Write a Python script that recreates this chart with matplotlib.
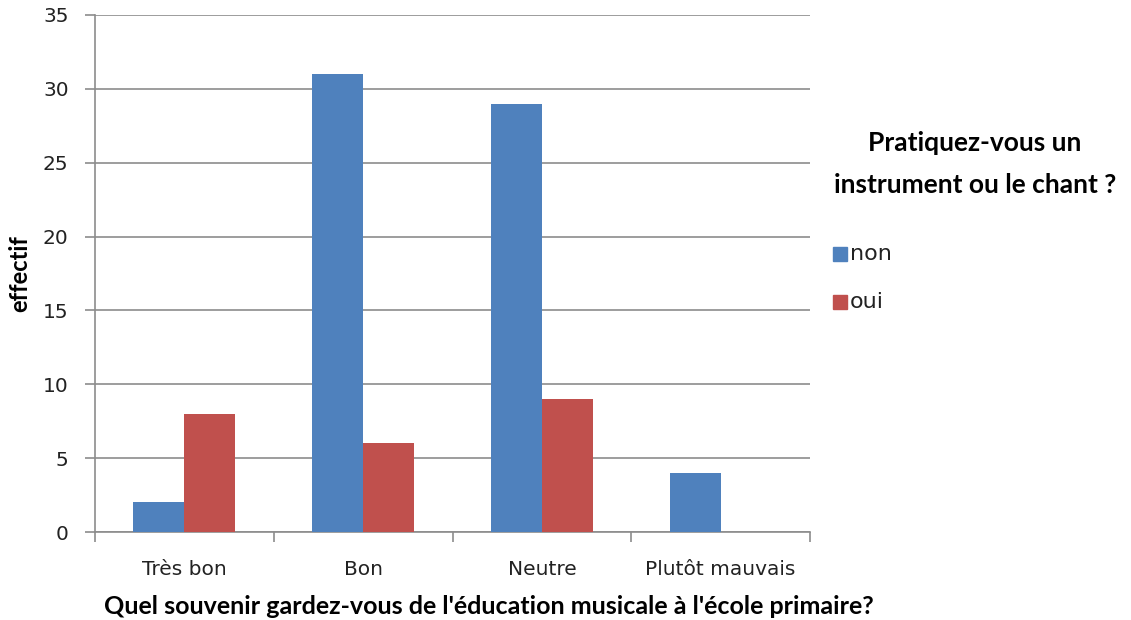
import matplotlib
matplotlib.use("Agg")
import matplotlib.pyplot as plt
import numpy as np

categories = ["Très bon", "Bon", "Neutre", "Plutôt mauvais"]
non_values = [2, 31, 29, 4]
oui_values = [8, 6, 9, 0]
series_names = ["non", "oui"]
y_ticks = [0, 5, 10, 15, 20, 25, 30, 35]

blue = "#4F81BD"
red = "#C0504D"
grid_c = "#8C8C8C"

fig = plt.figure(figsize=(11.31, 6.2), dpi=100)
ax = fig.add_axes([95/1131, 1-532/620, (810-95)/1131, (532-15)/620])

x = np.arange(len(categories))
w = 0.285
ax.bar(x - w/2, non_values, width=w, color=blue, zorder=3)
ax.bar(x + w/2, oui_values, width=w, color=red, zorder=3)

ax.set_xlim(-0.5, len(categories) - 0.5)
ax.set_ylim(0, 35)
ax.set_yticks(y_ticks)
ax.set_xticks(x)
ax.set_xticklabels(categories, fontsize=14.5, family="DejaVu Sans", color="#222222")
ax.tick_params(axis="x", length=0, pad=20)
ax.set_xticks(np.arange(-0.5, len(categories)), minor=True)
ax.tick_params(axis="x", which="minor", length=7, color=grid_c, width=1.2)
ax.tick_params(axis="y", length=7, color=grid_c, width=1.2, labelsize=14.5, pad=12, labelcolor="#222222")
for lab in ax.get_yticklabels():
    lab.set_family("DejaVu Sans")

ax.yaxis.grid(True, color=grid_c, linewidth=1.2, zorder=0)
for s in ["top", "right"]:
    ax.spines[s].set_visible(False)
ax.spines["left"].set_color(grid_c)
ax.spines["bottom"].set_color(grid_c)
ax.spines["left"].set_linewidth(1.2)
ax.spines["bottom"].set_linewidth(1.2)

fig.text(20/1131, 1-274/620, "effectif", rotation=90, fontsize=17, fontweight="bold",
         family="Lato", ha="center", va="center")
fig.text(489/1131, 1-606/620, "Quel souvenir gardez-vous de l'éducation musicale à l'école primaire?",
         fontsize=18, fontweight="bold", family="Lato", ha="center", va="center")

fig.text(975/1131, 1-143/620, "Pratiquez-vous un", fontsize=19, fontweight="bold",
         family="Lato", ha="center", va="center")
fig.text(975/1131, 1-185/620, "instrument ou le chant ?", fontsize=19, fontweight="bold",
         family="Lato", ha="center", va="center")

for i, (name, col) in enumerate(zip(series_names, [blue, red])):
    yc = 254 + i * 48
    fig.patches.append(plt.Rectangle((833/1131, 1-(yc+7)/620), 14/1131, 14/620,
                                     transform=fig.transFigure, color=col, figure=fig))
    fig.text(850/1131, 1-yc/620, name, fontsize=16, family="DejaVu Sans",
             ha="left", va="center", color="#222222")

fig.savefig("out.png", dpi=100, facecolor="white")
